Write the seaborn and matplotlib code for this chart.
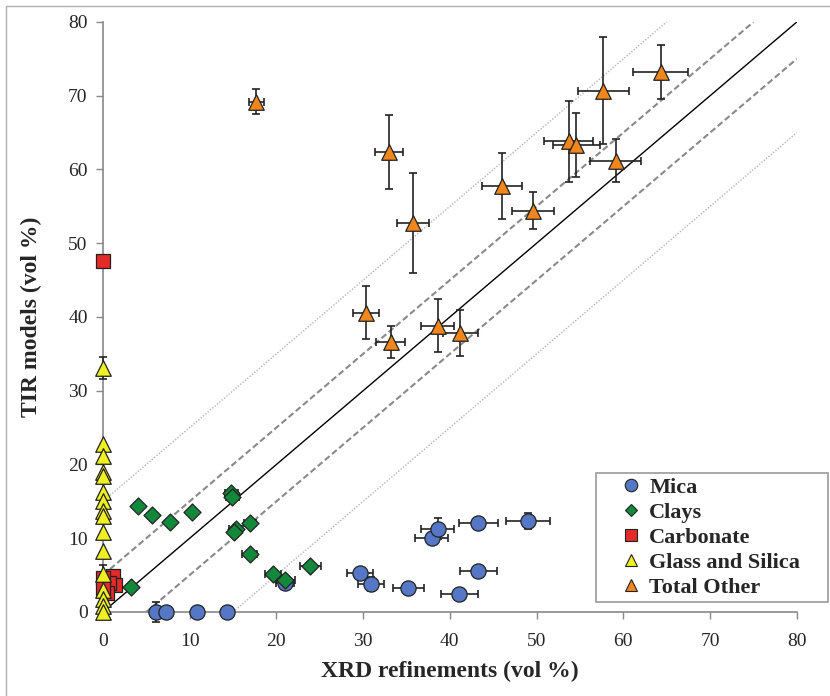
import matplotlib.pyplot as plt
import matplotlib.lines as mlines
import seaborn as sns
import numpy as np
import pandas as pd

# Mica
mica_x = [6.1, 7.3, 10.8, 14.3, 21.0, 29.6, 30.9, 35.2, 37.9, 38.6, 41.1, 43.3, 43.3, 49.0]
mica_y = [0.0, 0.0, 0.0, 0.0, 3.9, 5.3, 3.8, 3.2, 10.1, 11.3, 2.5, 5.6, 12.1, 12.3]
mica_xerr = [0, 0, 0, 0, 1.0, 1.5, 1.5, 1.8, 1.9, 1.9, 2.1, 2.15, 2.2, 2.5]
mica_yerr = [1.3, 0, 0, 0, 0.5, 0, 0.9, 0, 0, 1.4, 0, 0, 0, 1.1]

# Clays
clays_x = [3.2, 4.1, 5.7, 7.7, 10.3, 14.8, 14.9, 15.3, 15.1, 17.0, 16.9, 19.6, 21.0, 23.9]
clays_y = [3.4, 14.4, 13.2, 12.2, 13.5, 16.2, 15.6, 11.2, 10.8, 12.0, 7.9, 5.15, 4.3, 6.2]
clays_xerr = [0, 0, 0, 0, 0, 0.75, 0.75, 0.77, 0, 0.7, 0.9, 0.9, 1.1, 1.2]

# Carbonate
carb_x = [0.0, 1.2, 1.4, 0.7, 0.5, 0.0, 0.0]
carb_y = [47.6, 4.9, 3.7, 3.9, 2.6, 4.6, 3.2]

# Glass and Silica
glass_x = [0.0] * 16
glass_y = [33.1, 22.8, 21.1, 19.0, 18.4, 16.3, 15.0, 13.7, 13.0, 10.8, 8.3, 5.2, 3.0, 1.7, 0.8, 0.0]
glass_yerr = [1.45, 0, 0, 0, 0, 0, 0, 0, 0, 0, 0, 1.2, 0, 0, 0, 0]

# Total Other
other_x = [17.7, 33.0, 35.7, 30.3, 33.2, 38.6, 41.2, 46.0, 49.6, 53.7, 54.6, 57.7, 59.1, 64.3]
other_y = [69.2, 62.4, 52.7, 40.6, 36.6, 38.8, 37.8, 57.8, 54.4, 63.8, 63.3, 70.7, 61.2, 73.2]
other_xerr = [0.9, 1.65, 1.85, 1.5, 1.67, 1.9, 2.0, 2.3, 2.4, 2.8, 2.7, 2.9, 2.96, 3.2]
other_yerr = [1.7, 5.0, 6.8, 3.55, 2.2, 3.6, 3.1, 4.45, 2.5, 5.5, 4.3, 7.3, 2.9, 3.7]

ticks = [0, 10, 20, 30, 40, 50, 60, 70, 80]

sns.set_style('white')
plt.rcParams['font.family'] = ['Liberation Serif', 'DejaVu Serif']

fig = plt.figure(figsize=(8.3, 6.96), dpi=100)
ax = fig.add_axes([0.124, 0.1207, 0.836, 0.8477])

# figure border (top and left only)
fig.add_artist(mlines.Line2D([6 / 830, 6 / 830], [0, 1 - 6 / 696], transform=fig.transFigure,
                             color='#b0b0b0', lw=1))
fig.add_artist(mlines.Line2D([6 / 830, 1], [1 - 6 / 696, 1 - 6 / 696], transform=fig.transFigure,
                             color='#b0b0b0', lw=1))

# 1:1 line, +-5 dashed, +-15 dotted
ax.plot([0, 80], [0, 80], color='black', lw=1, zorder=1)
for off in [5, -5]:
    xx = np.array([max(0, -off), min(80, 80 - off)])
    ax.plot(xx, xx + off, color='#8a8a8a', lw=1.5, ls=(0, (3, 1.5)), zorder=1)
for off in [15, -15]:
    xx = np.array([max(0, -off), min(80, 80 - off)])
    ax.plot(xx, xx + off, color='#b5b5b5', lw=1, ls=(0, (1, 1.2)), zorder=1)


def errbars(x, y, xerr=None, yerr=None):
    x = np.asarray(x)
    y = np.asarray(y)
    for err, key in [(xerr, 'xerr'), (yerr, 'yerr')]:
        if err is None:
            continue
        err = np.asarray(err)
        m = err > 0
        ax.errorbar(x[m], y[m], fmt='none', ecolor='#222222', elinewidth=1.2,
                    capsize=3, capthick=1.2, zorder=2, clip_on=False, **{key: err[m]})


errbars(mica_x, mica_y, mica_xerr, mica_yerr)
errbars(clays_x, clays_y, clays_xerr, None)
errbars(glass_x, glass_y, None, glass_yerr)
errbars(other_x, other_y, other_xerr, other_yerr)

series = [
    ('Mica', mica_x, mica_y, 'o', '#5677c6', 120, 9),
    ('Clays', clays_x, clays_y, 'D', '#11883a', 75, 6.5),
    ('Carbonate', carb_x, carb_y, 's', '#e52a2a', 110, 8.5),
    ('Glass and Silica', glass_x, glass_y, '^', '#eef021', 125, 9),
    ('Total Other', other_x, other_y, '^', '#f0861c', 125, 9),
]

handles = []
for name, xs, ys, mk, col, size, lsize in series:
    df = pd.DataFrame({'x': xs, 'y': ys})
    sns.scatterplot(data=df, x='x', y='y', marker=mk, color=col, s=size,
                    edgecolor='#222222', linewidth=0.9, zorder=3, ax=ax, legend=False,
                    clip_on=False)
    handles.append(mlines.Line2D([], [], ls='none', marker=mk, markersize=lsize,
                                 markerfacecolor=col, markeredgecolor='#222222',
                                 markeredgewidth=0.8, label=name))

ax.set_xlim(0, 80)
ax.set_ylim(0, 80)
ax.set_xticks(ticks)
ax.set_yticks(ticks)
ax.tick_params(axis='both', labelsize=14, length=5, width=1, color='#888888',
               direction='out', bottom=True, left=True, pad=6)
ax.tick_params(axis='x', pad=10)
for side in ['top', 'right']:
    ax.spines[side].set_visible(False)
for side in ['left', 'bottom']:
    ax.spines[side].set_color('#888888')
    ax.spines[side].set_linewidth(1.2)
for sp in ax.spines.values():
    sp.set_zorder(0.5)

ax.set_xlabel('XRD refinements (vol %)', fontsize=17, fontweight='bold', labelpad=8)
ax.set_ylabel('TIR models (vol %)', fontsize=17, fontweight='bold', labelpad=19)

leg = ax.legend(handles=handles, loc='upper left', bbox_to_anchor=(0.7104, 0.0, 0.3343, 0.2356),
                mode='expand', prop={'size': 16, 'weight': 'bold'}, frameon=True, fancybox=False,
                edgecolor='#999999', framealpha=1, borderpad=0.2, labelspacing=0.2,
                handletextpad=-0.6, handlelength=2.8, borderaxespad=0)
leg.get_frame().set_linewidth(1.2)
leg.set_zorder(5)

fig.savefig('out.png', dpi=100)
plt.close(fig)
